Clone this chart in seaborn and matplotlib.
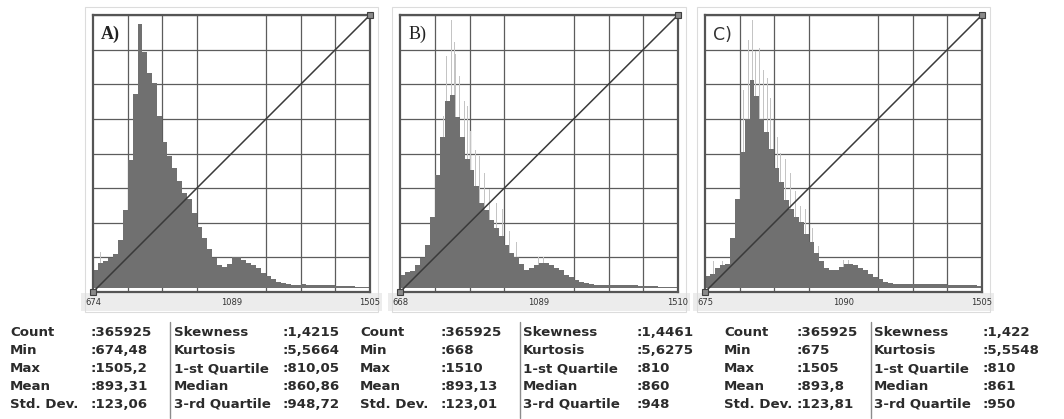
import numpy as np
import pandas as pd
import matplotlib
matplotlib.use("Agg")
import matplotlib.pyplot as plt
from matplotlib.lines import Line2D
from matplotlib.patches import Rectangle
import seaborn as sns

# --- data (heights in % of plot height) ---
PANEL_NAMES = ["A)", "B)", "C)"]
RANGES = [(674.48, 1505.2), (668.0, 1510.0), (675.0, 1505.0)]
TICK_LABELS = [["674", "1089", "1505"], ["668", "1089", "1510"], ["675", "1090", "1505"]]

HEIGHTS_A = [6.5, 9, 9.5, 10.5, 12, 17, 28, 46, 70, 95, 85, 77.6, 74, 62, 52.5, 47.5,
             43, 38.5, 34, 32, 27, 22, 18, 14, 10.5, 8, 7.6, 8.5, 11, 11, 10, 9,
             8, 7, 5.3, 4.3, 3, 2, 1.5,
             1.2, 1.1, 1.1, 1.2, 1.1, 1.0, 1.1, 1.0, 0.9, 0.8, 0.7, 0.6, 0.5, 0.4, 0.3, 0.3, 0.2]
HEIGHTS_B = [4.5, 5.5, 6, 8, 10.5, 15.5, 25.5, 40.5, 54.5, 67.5, 69.5, 61.5, 54.5, 46.5, 42.5, 36.5,
             30.5, 28, 24.5, 21.5, 18.5, 15.5, 12.5, 11, 8.5, 6.5, 7, 8, 9, 9, 8, 7,
             6.3, 4.7, 3.8, 2.8, 2, 1.7, 1.3,
             1.1, 1.0, 1.0, 0.9, 1.1, 1.0, 0.9, 0.9, 0.8, 0.7, 0.6, 0.5, 0.4, 0.3, 0.3, 0.2, 0.1]
HEIGHTS_C = [4, 5, 7, 8, 8.5, 18, 32, 49, 61, 75, 69, 61, 56, 50, 43, 38,
             31.5, 28.5, 25.5, 23.5, 19.5, 16.5, 12.5, 9.5, 7, 6.2, 6.5, 7.5, 8.5, 8.5, 8, 7,
             6.2, 5, 3.8, 3, 2, 1.6, 1.4,
             1.3, 1.3, 1.3, 1.4, 1.3, 1.3, 1.2, 1.3, 1.2, 1.2, 1.1, 1.1, 1.0, 1.0, 0.9, 0.8, 0.7]

# light grey spikes (finer bins poking above the main histogram)
SPIKES_A_X = [698]
SPIKES_A_Y = [13]
SPIKES_B_X = [797, 807, 821, 833, 838, 848, 863, 873, 883, 898, 908, 924, 939, 959, 979, 999, 1020, 1085, 1100]
SPIKES_B_Y = [62, 83.5, 96.5, 88.5, 84.5, 76.5, 67.5, 65.5, 56.5, 49.5, 47.5, 41.5, 35.5, 30.5, 28.5, 20.5, 16.5, 11, 11]
SPIKES_C_X = [701, 726, 791, 806, 816, 826, 838, 851, 861, 871, 881, 891, 901, 916, 931, 946, 961, 976, 996, 1016, 1090, 1105]
SPIKES_C_Y = [9.5, 9.5, 71.5, 89.5, 96.5, 85.5, 86.5, 78.5, 75.5, 68.5, 60.5, 54.5, 48.5, 46.5, 41.5, 35, 29.5, 28.5, 21.5, 15, 10, 10]

STAT_NAMES_L = ["Count", "Min", "Max", "Mean", "Std. Dev."]
STAT_NAMES_R = ["Skewness", "Kurtosis", "1-st Quartile", "Median", "3-rd Quartile"]
STATS_A_L = ["365925", "674,48", "1505,2", "893,31", "123,06"]
STATS_A_R = ["1,4215", "5,5664", "810,05", "860,86", "948,72"]
STATS_B_L = ["365925", "668", "1510", "893,13", "123,01"]
STATS_B_R = ["1,4461", "5,6275", "810", "860", "948"]
STATS_C_L = ["365925", "675", "1505", "893,8", "123,81"]
STATS_C_R = ["1,422", "5,5548", "810", "861", "950"]

# --- layout (pixels in a 1064 x 419 canvas) ---
W, H = 1064, 419
AX_BOXES = [(93, 15, 277, 277), (400, 15, 278, 277), (705, 15, 277, 277)]
TABLE_COLS = [(10, 90, 170, 174, 282), (360, 440, 520, 523, 636), (724, 796, 871, 874, 982)]
ROW_Y = [333, 351, 368.5, 386, 404]

DARK = "#707070"
LIGHT = "#c4c4c4"
GRID = "#5c5c5c"
TEXT = "#2b2b2b"
YLO, YHI = -1.6, 98.4


def fx(x):
    return x / W


def fy(y):
    return 1 - y / H


sns.set_theme(style="white")
plt.rcParams["font.family"] = ["DejaVu Sans"]

fig = plt.figure(figsize=(W / 100, H / 100), dpi=100)
fig.patch.set_facecolor("white")

heights = [HEIGHTS_A, HEIGHTS_B, HEIGHTS_C]
spikes = [(SPIKES_A_X, SPIKES_A_Y), (SPIKES_B_X, SPIKES_B_Y), (SPIKES_C_X, SPIKES_C_Y)]

for i, (left, top, w, h) in enumerate(AX_BOXES):
    lo, hi = RANGES[i]

    # label strip and faint outer box behind each panel
    fig.add_artist(Rectangle((fx(left - 12), fy(311)), fx(w + 24), (311 - 293) / H,
                             transform=fig.transFigure, facecolor="#ececec", edgecolor="none", zorder=0))
    fig.add_artist(Rectangle((fx(left - 8), fy(312)), fx(w + 16), (312 - (top - 8)) / H,
                             transform=fig.transFigure, facecolor="none", edgecolor="#dcdcdc", lw=0.8, zorder=0))

    ax = fig.add_axes([fx(left), fy(top + h), fx(w), h / H])
    ax.set_facecolor("white")

    sx, sy = spikes[i]
    spike_df = pd.DataFrame({"value": sx, "height": sy})
    spike_bins = list(np.arange(lo, hi + 3, 3))
    sns.histplot(data=spike_df, x="value", weights="height", bins=spike_bins,
                 element="bars", color=LIGHT, alpha=1, linewidth=0, ax=ax)

    edges = np.linspace(lo, hi, len(heights[i]) + 1)
    hist_df = pd.DataFrame({"value": (edges[:-1] + edges[1:]) / 2, "height": heights[i]})
    sns.histplot(data=hist_df, x="value", weights="height", bins=list(edges), element="step",
                 fill=True, color=DARK, alpha=1, linewidth=0, ax=ax)

    ax.set_xlim(lo, hi)
    ax.set_ylim(YLO, YHI)
    ax.set_xlabel("")
    ax.set_ylabel("")

    ax.set_xticks(np.linspace(lo, hi, 9), minor=True)
    ax.set_yticks(np.linspace(YLO, YHI, 9), minor=True)
    ax.set_xticks([lo, (lo + hi) / 2, hi])
    ax.set_xticklabels(TICK_LABELS[i], fontsize=6, color="#333333")
    ax.set_yticks([])
    ax.tick_params(which="both", length=0)
    ax.tick_params(axis="x", pad=4)
    ax.grid(which="minor", color=GRID, lw=0.9)
    ax.set_axisbelow(True)

    for spine in ax.spines.values():
        spine.set_color("#555555")
        spine.set_linewidth(1.6)

    ax.plot([0, 1], [0, 1], transform=ax.transAxes, color="#3a3a3a", lw=1.1, zorder=5)
    ax.plot([0, 1], [0, 1], transform=ax.transAxes, ls="none", marker="s", ms=4,
            mfc="#8a8a8a", mec="#404040", mew=0.8, clip_on=False, zorder=6)

    if i < 2:
        ax.text(0.03, 0.96, PANEL_NAMES[i], transform=ax.transAxes, ha="left", va="top",
                fontsize=13, fontweight="bold" if i == 0 else "normal",
                family=["Liberation Serif", "DejaVu Serif"], color="#222222", zorder=7)
    else:
        ax.text(0.03, 0.96, PANEL_NAMES[i], transform=ax.transAxes, ha="left", va="top",
                fontsize=12.5, family=["DejaVu Sans"], color="#333333", zorder=7)

# --- statistics table under each panel ---
stats = [(STATS_A_L, STATS_A_R), (STATS_B_L, STATS_B_R), (STATS_C_L, STATS_C_R)]
for (name_x, val_x, sep_x, name2_x, val2_x), (vals_l, vals_r) in zip(TABLE_COLS, stats):
    for r, y in enumerate(ROW_Y):
        kw = dict(fontsize=9.6, fontweight="bold", color=TEXT, va="center", ha="left")
        fig.text(fx(name_x), fy(y), STAT_NAMES_L[r], **kw)
        fig.text(fx(val_x), fy(y), ":" + vals_l[r], **kw)
        fig.text(fx(name2_x), fy(y), STAT_NAMES_R[r], **kw)
        fig.text(fx(val2_x), fy(y), ":" + vals_r[r], **kw)
    fig.add_artist(Line2D([fx(sep_x), fx(sep_x)], [fy(322), fy(418)],
                          transform=fig.transFigure, color="#8c8c8c", lw=1))

fig.savefig("out.png", dpi=100)
